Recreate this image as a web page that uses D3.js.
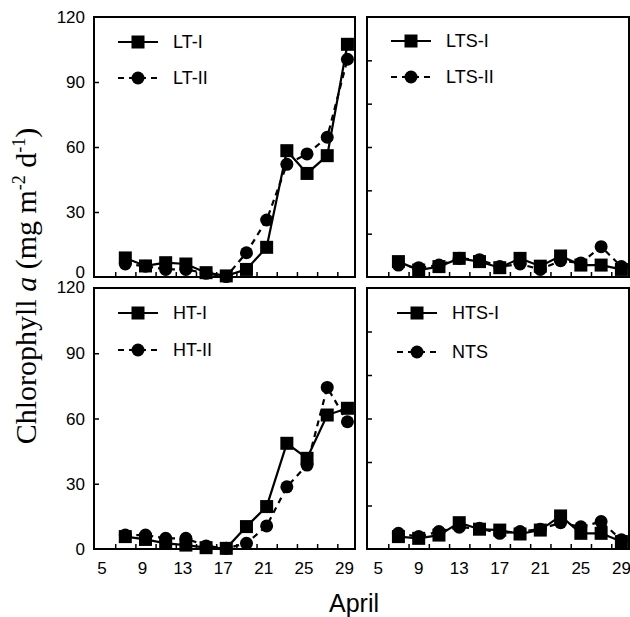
<!DOCTYPE html>
<html>
<head>
<meta charset="utf-8">
<script src="https://cdn.jsdelivr.net/npm/d3@7"></script>
<style>
  html, body { margin: 0; padding: 0; background: #fff; }
  svg { display: block; }
</style>
</head>
<body>
<svg id="chart" width="630" height="617"></svg>
<script>
// ---- data (April days, chlorophyll a, mg m-2 d-1) ----
const days = [7, 9, 11, 13, 15, 17, 19, 21, 23, 25, 27, 29];
const ltI   = [8.8, 5.1, 6.6, 6.0, 2.0, 0.5, 3.5, 13.7, 58.3, 47.8, 56.0, 107.4];
const ltII  = [6.0, 5.0, 3.5, 3.5, 1.7, 0.2, 11.2, 26.3, 52.0, 56.8, 64.5, 100.5];
const ltsI  = [7.1, 3.2, 4.8, 8.6, 7.1, 4.3, 8.6, 5.0, 9.7, 5.5, 5.5, 3.5];
const ltsII = [5.5, 4.3, 5.5, 8.6, 8.0, 4.8, 6.0, 3.5, 7.5, 6.5, 14.0, 4.8];
const htI   = [5.7, 4.4, 2.6, 1.8, 0.6, 0.3, 10.3, 19.5, 48.6, 41.7, 61.6, 64.7];
const htII  = [6.4, 6.4, 4.9, 4.9, 1.4, 0.3, 2.6, 10.6, 28.6, 38.6, 74.3, 58.5];
const htsI  = [5.7, 4.9, 6.4, 12.1, 9.1, 8.7, 6.9, 8.7, 15.2, 7.2, 7.2, 3.4];
const nts   = [7.2, 5.7, 8.0, 10.0, 9.5, 7.2, 8.0, 9.1, 12.1, 10.2, 12.6, 4.2];

const seriesNames = [["LT-I", "LT-II"], ["LTS-I", "LTS-II"], ["HT-I", "HT-II"], ["HTS-I", "NTS"]];
const seriesData  = [[ltI, ltII], [ltsI, ltsII], [htI, htII], [htsI, nts]];

const xTickLabels = [5, 9, 13, 17, 21, 25, 29];
const xMinorTicks = [6, 8, 10, 12, 14, 16, 18, 20, 22, 24, 26, 28];
const yTickLabels = [0, 30, 60, 90, 120];
const yTicksLeft  = [30, 60, 90];
const yTicksRight = [20, 40, 60, 80, 100];

// ---- layout ----
const svg = d3.select("#chart");
const panels = [
  { x0: 94,  x1: 355, y0: 17,  y1: 277, left: true,  bottom: false, legX: 118, legY: [42, 78] },
  { x0: 367, x1: 629, y0: 17,  y1: 277, left: false, bottom: false, legX: 391, legY: [41, 77] },
  { x0: 94,  x1: 355, y0: 288, y1: 549, left: true,  bottom: true,  legX: 118, legY: [313, 350] },
  { x0: 367, x1: 629, y0: 288, y1: 549, left: false, bottom: true,  legX: 397, legY: [313, 352] }
];

const sansFont = "'Liberation Sans', Arial, Helvetica, sans-serif";
const tickLen = 5;

panels.forEach((p, i) => {
  const x = d3.scaleLinear().domain([3.9, 29.75]).range([p.x0, p.x1]);
  const y = d3.scaleLinear().domain([0, 120]).range([p.y1, p.y0]);
  const g = svg.append("g");

  // ticks (inside)
  const yAxis = d3.axisRight(y).tickValues(p.left ? yTicksLeft : yTicksRight)
    .tickSize(tickLen).tickFormat("");
  g.append("g").attr("transform", `translate(${p.x0},0)`).call(yAxis)
    .call(s => s.select(".domain").remove())
    .call(s => s.selectAll("line").attr("stroke", "#000").attr("stroke-width", 1.5));

  const xAxis = d3.axisTop(x).tickValues(xMinorTicks).tickSize(tickLen).tickFormat("");
  g.append("g").attr("transform", `translate(0,${p.y1})`).call(xAxis)
    .call(s => s.select(".domain").remove())
    .call(s => s.selectAll("line").attr("stroke", "#000").attr("stroke-width", 1.5));

  // y tick labels
  if (p.left) {
    g.selectAll("text.ylab").data(yTickLabels).join("text")
      .attr("class", "ylab")
      .attr("x", p.x0 - 9)
      .attr("y", d => y(d) + 6 + (d === 0 && !p.bottom ? -5 : 0) + (d === 120 && p.bottom ? -1 : 0))
      .attr("text-anchor", "end")
      .attr("font-family", sansFont).attr("font-size", 17)
      .text(d => d);
  }
  // x tick labels
  if (p.bottom) {
    g.selectAll("text.xlab").data(xTickLabels).join("text")
      .attr("class", "xlab")
      .attr("x", d => x(d) - (p.left ? 3 : 0))
      .attr("y", p.y1 + 25)
      .attr("text-anchor", "middle")
      .attr("font-family", sansFont).attr("font-size", 17)
      .text(d => d);
  }

  // series
  const [sA, sB] = seriesData[i];
  const line = d3.line().x((d, k) => x(days[k])).y(d => y(d));

  g.append("path").datum(sB).attr("d", line)
    .attr("fill", "none").attr("stroke", "#000").attr("stroke-width", 2.2)
    .attr("stroke-dasharray", "6,5");
  g.append("path").datum(sA).attr("d", line)
    .attr("fill", "none").attr("stroke", "#000").attr("stroke-width", 2.2);

  g.selectAll("circle.pt").data(sB).join("circle")
    .attr("class", "pt")
    .attr("cx", (d, k) => x(days[k])).attr("cy", d => y(d)).attr("r", 6.5)
    .attr("fill", "#000");
  const sq = 13;
  g.selectAll("rect.pt").data(sA).join("rect")
    .attr("class", "pt")
    .attr("x", (d, k) => x(days[k]) - sq / 2).attr("y", d => y(d) - sq / 2)
    .attr("width", sq).attr("height", sq).attr("fill", "#000");

  // frame
  g.append("rect").attr("x", p.x0).attr("y", p.y0)
    .attr("width", p.x1 - p.x0).attr("height", p.y1 - p.y0)
    .attr("fill", "none").attr("stroke", "#000").attr("stroke-width", 2);

  // legend
  const names = seriesNames[i];
  const lx0 = p.legX, lx1 = p.legX + 40, lm = (lx0 + lx1) / 2;
  g.append("line").attr("x1", lx0).attr("x2", lx1).attr("y1", p.legY[0]).attr("y2", p.legY[0])
    .attr("stroke", "#000").attr("stroke-width", 2.2);
  g.append("rect").attr("x", lm - sq / 2).attr("y", p.legY[0] - sq / 2)
    .attr("width", sq).attr("height", sq).attr("fill", "#000");
  g.append("text").attr("x", lx1 + 15).attr("y", p.legY[0] + 6)
    .attr("font-family", sansFont).attr("font-size", 18).text(names[0]);
  g.append("line").attr("x1", lx0).attr("x2", lx1).attr("y1", p.legY[1]).attr("y2", p.legY[1])
    .attr("stroke", "#000").attr("stroke-width", 2.2).attr("stroke-dasharray", "6,5");
  g.append("circle").attr("cx", lm).attr("cy", p.legY[1]).attr("r", 6.5).attr("fill", "#000");
  g.append("text").attr("x", lx1 + 15).attr("y", p.legY[1] + 6)
    .attr("font-family", sansFont).attr("font-size", 18).text(names[1]);
});

// y-axis title
const yt = svg.append("text")
  .attr("transform", "translate(36,286) rotate(-90)")
  .attr("text-anchor", "middle")
  .attr("font-family", "'Liberation Serif', 'Times New Roman', serif")
  .attr("font-size", 30);
yt.append("tspan").text("Chlorophyll ");
yt.append("tspan").attr("font-style", "italic").text("a");
yt.append("tspan").text(" (mg m");
yt.append("tspan").attr("font-size", 18).attr("dy", -11).text("-2");
yt.append("tspan").attr("dy", 11).text(" d");
yt.append("tspan").attr("font-size", 18).attr("dy", -11).text("-1");
yt.append("tspan").attr("dy", 11).text(")");

// x-axis title
svg.append("text").attr("x", 354).attr("y", 612)
  .attr("text-anchor", "middle")
  .attr("font-family", sansFont).attr("font-size", 25)
  .text("April");
</script>
</body>
</html>
